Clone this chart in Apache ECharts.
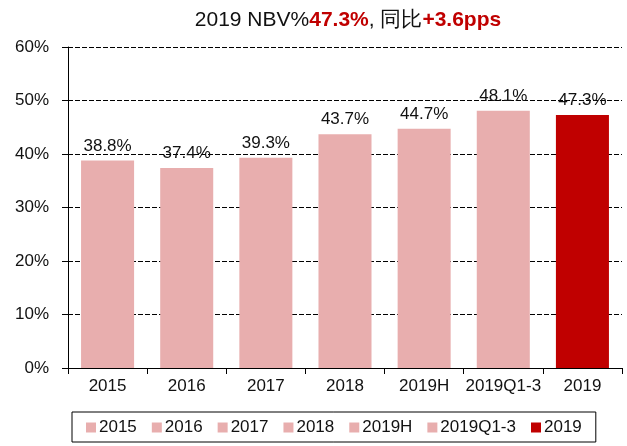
<!DOCTYPE html>
<html>
<head>
<meta charset="utf-8">
<script src="https://cdn.jsdelivr.net/npm/echarts@6/dist/echarts.min.js"></script>
<style>
  html, body { margin: 0; padding: 0; background: #fff; }
  #chart { width: 627px; height: 446px; }
</style>
</head>
<body>
<div id="chart"></div>
<script>
// chart data
const categories = ["2015", "2016", "2017", "2018", "2019H", "2019Q1-3", "2019"];
const nbvMargin = [38.8, 37.4, 39.3, 43.7, 44.7, 48.1, 47.3];
const barColors = ["#E8AEAE", "#E8AEAE", "#E8AEAE", "#E8AEAE", "#E8AEAE", "#E8AEAE", "#C00000"];

const FONT = "Liberation Sans, Arial, sans-serif";

var chart = echarts.init(document.getElementById("chart"));

// one series per category so every bar gets its own legend entry
var series = [];
for (var i = 0; i < categories.length; i++) {
  var vals = categories.map(function (c, j) { return j === i ? nbvMargin[j] : "-"; });
  series.push({
    name: categories[i],
    type: "bar",
    stack: "all",
    barWidth: "67%",
    itemStyle: { color: barColors[i] },
    label: {
      show: true,
      position: "top",
      distance: 6,
      fontFamily: FONT,
      fontSize: 17,
      color: "#111",
      formatter: function (p) { return p.value.toFixed(1) + "%"; }
    },
    data: vals
  });
}

var option = {
  animation: false,
  textStyle: { fontFamily: FONT },
  title: {
    left: 343,
    textAlign: "center",
    top: 5,
    text: "{a|2019 NBV%}{b|47.3%}{a|, 同比}{b|+3.6pps}",
    textStyle: {
      fontWeight: "normal",
      rich: {
        a: { fontFamily: FONT, fontSize: 21, fontWeight: "normal", color: "#111" },
        b: { fontFamily: FONT, fontSize: 21, fontWeight: "bold", color: "#C00000" }
      }
    }
  },
  grid: { left: 68, right: 5, top: 47, bottom: 78 },
  legend: {
    bottom: 4,
    left: 72,
    padding: [7, 14, 6, 14],
    borderColor: "#000",
    borderWidth: 1,
    itemWidth: 10,
    itemHeight: 10,
    itemGap: 15,
    icon: "rect",
    textStyle: { fontFamily: FONT, fontSize: 17, color: "#111", padding: [0, 0, 0, -2] },
    data: categories
  },
  xAxis: {
    type: "category",
    data: categories,
    axisLine: { lineStyle: { color: "#000", width: 1 } },
    axisTick: { show: true, length: 6, lineStyle: { color: "#000" } },
    axisLabel: { interval: 0, fontFamily: FONT, fontSize: 17, color: "#111", margin: 10 }
  },
  yAxis: {
    type: "value",
    min: 0,
    max: 60,
    interval: 10,
    axisLine: { show: true, lineStyle: { color: "#000", width: 1 } },
    axisTick: { show: true, length: 6, lineStyle: { color: "#000" } },
    axisLabel: { fontFamily: FONT, fontSize: 17, color: "#111", margin: 19, formatter: "{value}%" },
    splitLine: { show: true, lineStyle: { color: "#000", type: [5, 2], width: 1 } }
  },
  series: series
};

chart.setOption(option);
</script>
</body>
</html>
